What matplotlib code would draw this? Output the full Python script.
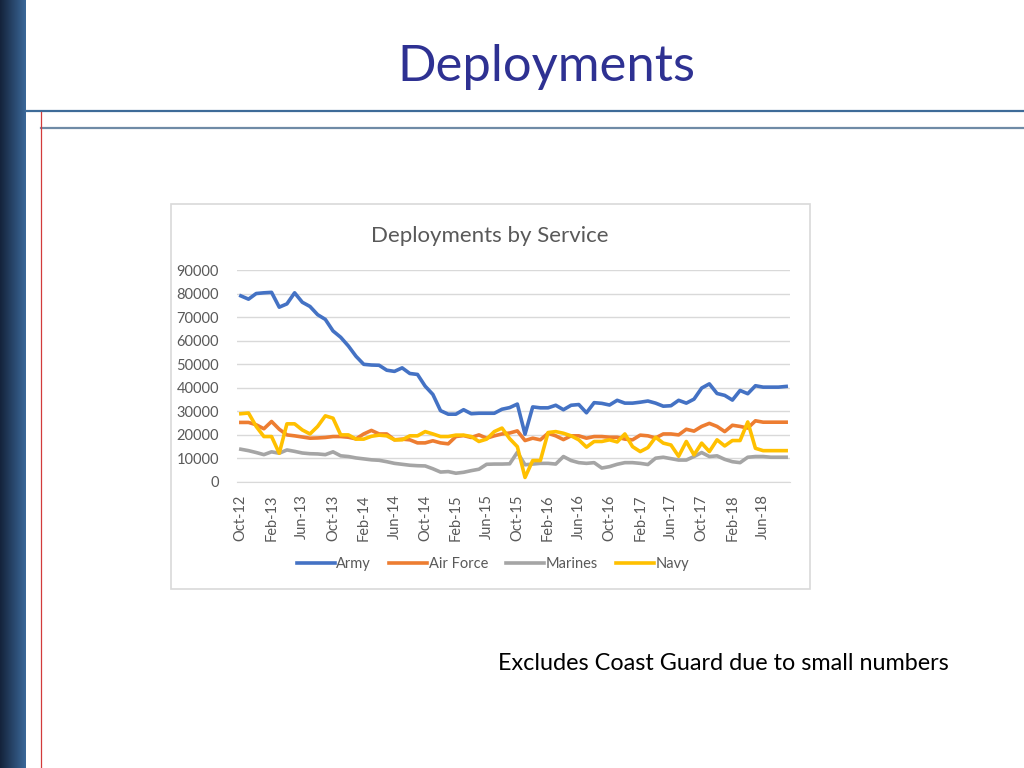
import numpy as np
import pandas as pd
import matplotlib
matplotlib.use("Agg")
import matplotlib.pyplot as plt
from matplotlib.patches import Rectangle

# Monthly deployments by service, Oct-12 .. Sep-18
months = pd.date_range("2012-10-01", periods=72, freq="MS").strftime("%b-%y").tolist()

army = [79000, 77600, 80000, 80300, 80500, 74200, 75600, 80300, 76300, 74500, 71000, 69000,
        64100, 61400, 57700, 53300, 49900, 49600, 49500, 47400, 46900, 48400, 46000, 45600,
        40600, 37100, 30200, 28700, 28700, 30600, 28900, 29100, 29100, 29100, 30800, 31500,
        33000, 20200, 31800, 31400, 31400, 32500, 30600, 32500, 32800, 29300, 33600, 33300,
        32600, 34600, 33400, 33400, 33800, 34300, 33400, 32100, 32300, 34600, 33400, 35100,
        39800, 41600, 37500, 36700, 34700, 38800, 37400, 40800, 40200, 40200, 40200, 40500]

air_force = [25200, 25200, 24200, 22500, 25600, 22300, 19900, 19500, 19000, 18500, 18600, 18800,
             19200, 19200, 18900, 18200, 20300, 21800, 20300, 20300, 17800, 18100, 17800, 16500,
             16500, 17400, 16500, 16100, 19200, 19600, 18800, 19900, 18500, 19500, 20300, 20700,
             21600, 17500, 18500, 17800, 20600, 19500, 17900, 19500, 19500, 18500, 19200, 19200,
             18900, 18900, 18100, 17800, 19800, 19500, 18600, 20300, 20300, 19900, 22300, 21500,
             23500, 24800, 23500, 21300, 24000, 23500, 22800, 25900, 25300, 25300, 25300, 25300]

marines = [13800, 13200, 12400, 11500, 12700, 12100, 13500, 12900, 12200, 11900, 11800, 11500,
           12700, 11000, 10700, 10100, 9700, 9300, 9100, 8500, 7800, 7400, 7000, 6800,
           6700, 5500, 4100, 4300, 3600, 4000, 4700, 5300, 7400, 7500, 7500, 7600,
           12500, 7200, 7500, 7800, 7800, 7500, 10700, 9000, 8100, 7800, 8100, 5800,
           6400, 7400, 8100, 8100, 7800, 7300, 10000, 10400, 9800, 9200, 9200, 10700,
           12400, 10700, 11000, 9500, 8500, 8100, 10400, 10700, 10700, 10400, 10400, 10400]

navy = [28900, 29200, 23500, 19200, 19200, 12100, 24600, 24600, 22000, 20300, 23500, 28000,
        27000, 19900, 19900, 18100, 18100, 19300, 19800, 19500, 17800, 17800, 19500, 19500,
        21300, 20300, 19200, 19200, 19800, 19800, 19200, 17100, 18100, 21300, 22800, 18300,
        14900, 1800, 9000, 9000, 20900, 21300, 20600, 19500, 17800, 14700, 17100, 17100,
        17800, 16900, 20300, 14900, 12800, 14500, 18900, 16400, 15600, 10800, 17100, 11400,
        16400, 12800, 17800, 15200, 17500, 17500, 25400, 14200, 13200, 13200, 13200, 13200]

series_names = ["Army", "Air Force", "Marines", "Navy"]
series_colors = ["#4472C4", "#ED7D31", "#A5A5A5", "#FFC000"]

W, H = 1024, 768
plt.rcParams["font.family"] = ["Lato", "DejaVu Sans"]
fig = plt.figure(figsize=(W / 100, H / 100), dpi=100)


def fx(px):
    return px / W


def fy(py):
    return 1 - py / H


# Slide decoration: gradient side bar, rules, red margin line
bar = fig.add_axes([0, 0, fx(26), 1])
grad = np.linspace(0, 1, 64).reshape(1, -1)
cmap = matplotlib.colors.LinearSegmentedColormap.from_list("bar", ["#14233b", "#3b6899"])
bar.imshow(grad, aspect="auto", cmap=cmap, extent=[0, 1, 0, 1])
bar.set_axis_off()

fig.add_artist(plt.Line2D([fx(26), 1], [fy(111), fy(111)], color="#3d6b98", lw=1.6))
fig.add_artist(plt.Line2D([fx(41), 1], [fy(128), fy(128)], color="#6f8ba6", lw=1.6))
fig.add_artist(plt.Line2D([fx(40.5), fx(40.5)], [0, fy(112)], color="#d23b3b", lw=0.9))

fig.text(fx(546), fy(67), "Deployments", ha="center", va="center",
         fontsize=36.5, color="#2E3192")
fig.text(fx(723), fy(663), "Excludes Coast Guard due to small numbers", ha="center",
         va="center", fontsize=16.8, color="black")

# Chart frame (kept behind the plot axes)
fig.add_artist(Rectangle((fx(171), fy(589)), fx(810) - fx(171), fy(204) - fy(589),
                         transform=fig.transFigure, facecolor="white",
                         edgecolor="#d9d9d9", lw=1.2, zorder=-5))
fig.text(fx(490), fy(236), "Deployments by Service", ha="center", va="center",
         fontsize=16, color="#595959")

ax = fig.add_axes([fx(237), fy(481.7), fx(790) - fx(237), fy(270) - fy(481.7)])
x = np.arange(len(months))
for vals, name, col in zip([army, air_force, marines, navy], series_names, series_colors):
    ax.plot(x, vals, color=col, lw=2.6, label=name, solid_joinstyle="round")

ax.set_xlim(-0.5, len(months) - 0.5)
ax.set_ylim(0, 90000)
ax.set_yticks(np.arange(0, 90001, 10000))
ax.set_xticks(x[::4])
ax.set_xticklabels(months[::4], rotation=90)
ax.grid(axis="y", color="#d9d9d9", lw=1)
ax.set_axisbelow(True)
for side in ["top", "right", "left"]:
    ax.spines[side].set_visible(False)
ax.spines["bottom"].set_color("#d9d9d9")
ax.tick_params(axis="both", length=0, labelsize=10.5, colors="#595959")
ax.tick_params(axis="y", pad=13)
ax.tick_params(axis="x", pad=9)
ax.patch.set_alpha(0)

fig.legend(loc="center", bbox_to_anchor=(fx(493), fy(564)), ncol=4, frameon=False,
           fontsize=10.5, labelcolor="#595959", handlelength=2.6, handletextpad=0.1,
           columnspacing=1.25)

fig.savefig("out.png", dpi=100)
